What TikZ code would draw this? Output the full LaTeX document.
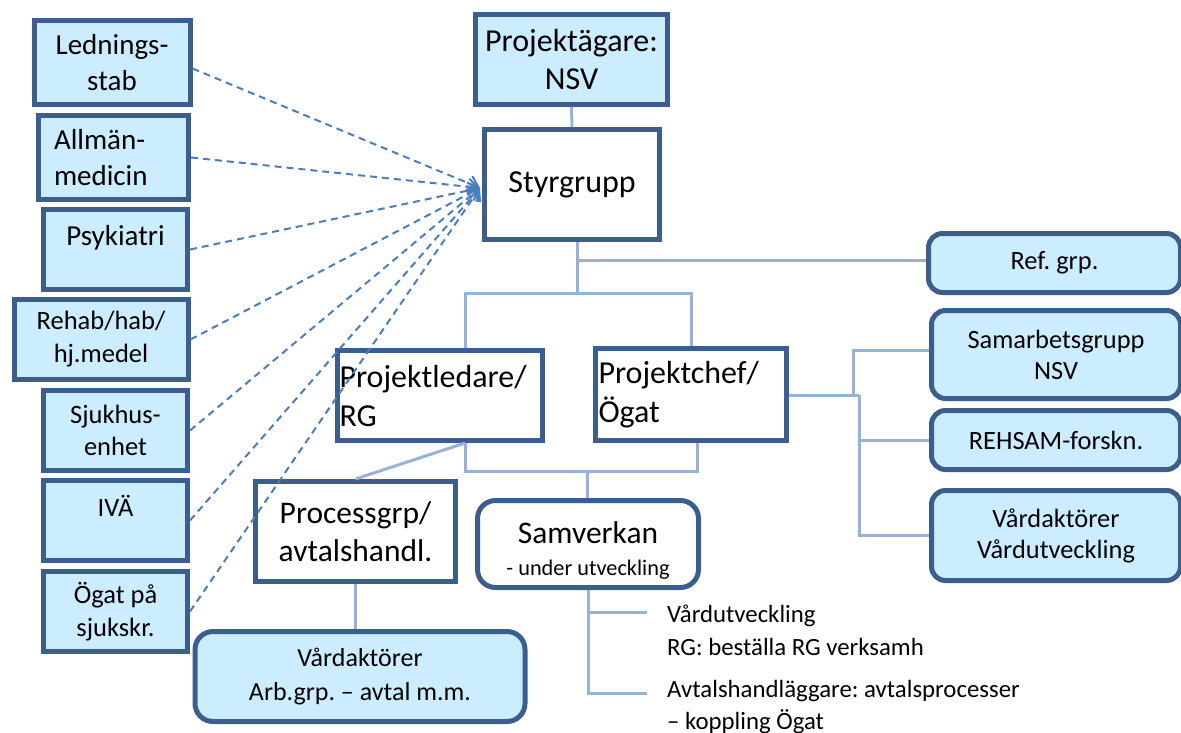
\documentclass[tikz,border=0pt]{standalone}
\usepackage{fontspec}
\setmainfont{Carlito}
\usetikzlibrary{arrows.meta}
\definecolor{dk}{RGB}{59,94,140}
\definecolor{lb}{RGB}{204,236,255}
\definecolor{cn}{RGB}{149,179,215}
\definecolor{da}{RGB}{74,126,189}
\newcommand{\fs}[2]{\fontsize{#1}{#2}\selectfont}
\frenchspacing
\begin{document}
\begin{tikzpicture}[x=1pt,y=-1pt,
  box/.style={draw=dk, line width=5pt, inner sep=0pt, align=center},
  lbox/.style={box, fill=lb},
  wbox/.style={box, fill=white},
  conn/.style={draw=cn, line width=3pt},
  darr/.style={draw=da, line width=2pt, dash pattern=on 7pt off 5pt,
    -{Straight Barb[length=10pt,width=16pt,line width=2pt]}},
  btxt/.style={anchor=base west, inner sep=0pt, font=\fs{24.8}{30}}
]
\useasboundingbox (0,0) rectangle (1181,733);

% left boxes
\node[lbox, minimum width=156pt, minimum height=84pt, font=\fs{29}{36}] (led) at (112,62.5) {Lednings-\\stab};
\node[lbox, minimum width=150pt, minimum height=84pt, font=\fs{29}{36}, text width=119pt, align=left] (all) at (113.5,157.5) {Allmän-\\medicin};
\node[lbox, minimum width=144pt, minimum height=80pt, font=\fs{29}{36}] (psy) at (115.5,249.5) {\rule{0pt}{27pt}Psykiatri\\\mbox{}};
\node[lbox, minimum width=174pt, minimum height=80pt, font=\fs{26.5}{33}] (reh) at (101,339.5) {Rehab/hab/\\hj.medel};
\node[lbox, minimum width=144pt, minimum height=80pt, font=\fs{26.5}{32}] (sju) at (115.5,430.5) {Sjukhus-\\enhet};
\node[lbox, minimum width=144pt, minimum height=80pt, font=\fs{26.5}{33}] (iva) at (115.5,520.5) {\rule{0pt}{24pt}IVÄ\\\mbox{}};
\node[lbox, minimum width=144pt, minimum height=80pt, font=\fs{26.5}{33}] (oga) at (115.5,611.5) {Ögat på\\sjukskr.};

% central boxes
\node[lbox, minimum width=192pt, minimum height=90pt, font=\fs{32}{38}] (pa) at (571.5,59.5) {Projektägare:\\NSV};
\node[wbox, minimum width=175pt, minimum height=110pt, font=\fs{32}{38}] (sty) at (572,184.5) {Styrgrupp};
\node[wbox, minimum width=205pt, minimum height=90pt, font=\fs{32}{39}, text width=201pt, align=left] (pl) at (440,395.5) {Projektledare/\\RG};
\node[wbox, minimum width=191pt, minimum height=92pt, font=\fs{32}{39}, text width=185pt, align=left] (pc) at (691,394.5) {Projektchef/\\Ögat};
\node[wbox, minimum width=200pt, minimum height=100pt, font=\fs{31.5}{38}] (pg) at (355.5,531.5) {Processgrp/\\avtalshandl.};
\node[wbox, rounded corners=18pt, minimum width=221pt, minimum height=87pt, font=\fs{22.3}{28}] (sam) at (588,544) {{\fs{31.5}{32}\rule{0pt}{34pt}Samverkan}\\[4pt]- under utveckling};
\node[lbox, rounded corners=18pt, minimum width=330pt, minimum height=90pt, font=\fs{26}{34}] (va) at (360,676.5) {Vårdaktörer\\Arb.grp. – avtal m.m.};

% right boxes
\node[lbox, rounded corners=14pt, minimum width=252pt, minimum height=59pt, font=\fs{26.4}{31}] (ref) at (1054.5,263) {Ref. grp.};
\node[lbox, rounded corners=14pt, minimum width=249pt, minimum height=88pt, font=\fs{26.4}{31}] (sgr) at (1056,354.5) {Samarbetsgrupp\\NSV};
\node[lbox, rounded corners=14pt, minimum width=249pt, minimum height=59pt, font=\fs{26.4}{31}] (rhs) at (1056,440) {REHSAM-forskn.};
\node[lbox, rounded corners=14pt, minimum width=249pt, minimum height=90pt, font=\fs{26.4}{31}] (vd) at (1056,535.5) {Vårdaktörer\\Vårdutveckling};

% bottom texts
\node[btxt] (t1) at (667,622) {Vårdutveckling};
\node[btxt] (t2) at (667,655) {RG: beställa RG verksamh};
\node[btxt] (t3) at (667,697) {Avtalshandläggare: avtalsprocesser};
\node[btxt] (t4) at (667,729) {– koppling Ögat};

% connectors
\coordinate (j0) at (577,260);
\coordinate (j1) at (577,293);
\coordinate (j2) at (587,471);
\coordinate (k1) at (853,395);
\coordinate (k2) at (859,395);
\coordinate (k3) at (853,350);
\coordinate (b1) at (647,612);
\coordinate (b2) at (647,693);

\draw[conn] (pa.south) -- (sty.north);
\draw[conn] ([xshift=5pt]sty.south) -- (j1);
\draw[conn] (j0) -- (j0 -| ref.west);
\draw[conn] ([xshift=25pt]pl.north) |- (j1) -| (pc.north);
\draw[conn] ([xshift=25pt]pl.south) |- (j2) -| ([xshift=6pt]pc.south);
\draw[conn] (j2) -- (j2 |- sam.north);
\draw[conn] ([xshift=25pt]pl.south) -- (pg.north);
\draw[conn] (pg.south) -- (pg.south |- va.north);
\draw[conn] (pc.east |- k1) -- (k2);
\draw[conn] (k1) -- (k3) -- (k3 -| sgr.west);
\draw[conn] (k2) |- (vd.west);
\draw[conn] (k2 |- rhs.west) -- (rhs.west);
\draw[conn] (sam.south) |- (b2);
\draw[conn] (sam.south |- b1) -- (b1);

% dashed arrows
\coordinate (tip) at (480,188);
\draw[darr] ([yshift=-6pt]led.east) -- (tip);
\draw[darr] (all.east) -- (tip);
\draw[darr] (psy.east) -- (tip);
\draw[darr] (reh.east) -- (tip);
\draw[darr] (sju.east) -- (tip);
\draw[darr] (iva.east) -- (tip);
\draw[darr] (oga.east) -- (tip);
\end{tikzpicture}
\end{document}
